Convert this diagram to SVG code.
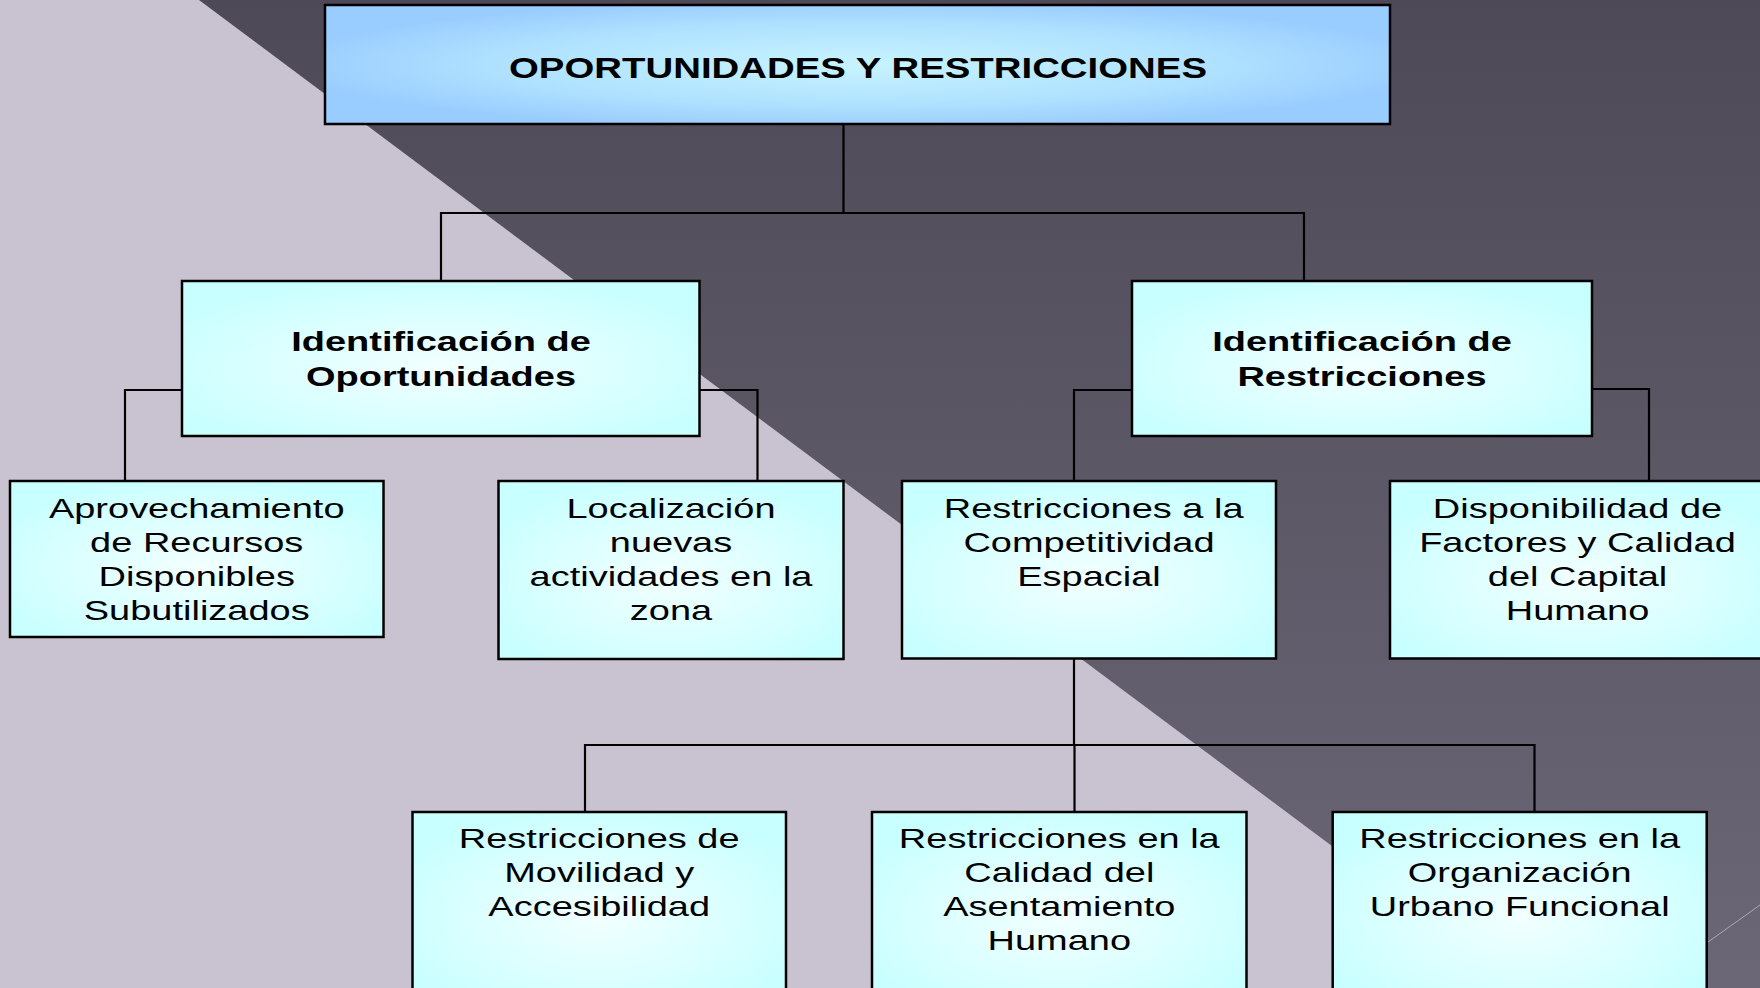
<svg xmlns="http://www.w3.org/2000/svg" width="1760" height="988" viewBox="0 0 1760 988">
<defs>
<linearGradient id="dark" x1="0" y1="0" x2="0" y2="1">
<stop offset="0" stop-color="#4e4956"/>
<stop offset="1" stop-color="#6c6776"/>
</linearGradient>
<radialGradient id="cyan" cx="0.5" cy="0.55" r="0.6">
<stop offset="0" stop-color="#f2ffff"/>
<stop offset="0.55" stop-color="#dcffff"/>
<stop offset="1" stop-color="#c8ffff"/>
</radialGradient>
<radialGradient id="blue" cx="0.5" cy="0.5" r="0.55">
<stop offset="0" stop-color="#c8f4ff"/>
<stop offset="0.6" stop-color="#b0e2ff"/>
<stop offset="1" stop-color="#99ccff"/>
</radialGradient>
<style>
.box{stroke:#000;stroke-width:2.5;fill:url(#cyan)}
.top{stroke:#000;stroke-width:2.5;fill:url(#blue)}
.t{font-family:"Liberation Sans",Arial,Helvetica,sans-serif;font-size:28.5px;text-anchor:middle;fill:#000}
.b{font-weight:bold}
.con{fill:none;stroke:#000;stroke-width:2.2}
</style>
</defs>
<rect x="0" y="0" width="1760" height="988" fill="#c9c3d1"/>
<polygon points="199,0 1760,0 1760,988 1522,988" fill="url(#dark)"/>
<line x1="1708" y1="942" x2="1760" y2="905" stroke="#d8d4de" stroke-width="1" opacity="0.6"/>

<g id="connectors">
<path class="con" d="M843.5,124 V213 M441,281 V213 H1304 V281"/>
<path class="con" d="M182,390 H125 V481 M699.5,390 H757.5 V481"/>
<path class="con" d="M1132,390 H1074 V481 M1592,389 H1649 V481"/>
<path class="con" d="M1074,658 V745 M585,812 V745 H1534.5 V812 M1074.5,745 V812"/>
</g>

<g id="n-top">
<rect class="top" x="325" y="5" width="1065" height="119"/>
<g transform="translate(858 0) scale(1.333 1)"><text class="t b" x="0" y="78.5" style="font-size:28.8px">OPORTUNIDADES Y RESTRICCIONES</text></g>
</g>

<g id="n-oport">
<rect class="box" x="182" y="281" width="517.5" height="155"/>
<g transform="translate(441 0) scale(1.333 1)">
<text class="t b" x="0" y="351">Identificación de</text>
<text class="t b" x="0" y="386">Oportunidades</text>
</g>
</g>

<g id="n-restr">
<rect class="box" x="1132" y="281" width="460" height="155"/>
<g transform="translate(1362 0) scale(1.333 1)">
<text class="t b" x="0" y="351">Identificación de</text>
<text class="t b" x="0" y="386">Restricciones</text>
</g>
</g>

<g id="n-aprov">
<rect class="box" x="10" y="481" width="373.5" height="156"/>
<g transform="translate(196.7 0) scale(1.333 1)">
<text class="t" x="0" y="518.5">Aprovechamiento</text>
<text class="t" x="0" y="552.5">de Recursos</text>
<text class="t" x="0" y="586.5">Disponibles</text>
<text class="t" x="0" y="620.5">Subutilizados</text>
</g>
</g>

<g id="n-local">
<rect class="box" x="498.5" y="481" width="345" height="178"/>
<g transform="translate(671 0) scale(1.333 1)">
<text class="t" x="0" y="518.5">Localización</text>
<text class="t" x="0" y="552.5">nuevas</text>
<text class="t" x="0" y="586.5">actividades en la</text>
<text class="t" x="0" y="620.5">zona</text>
</g>
</g>

<g id="n-compet">
<rect class="box" x="902" y="481" width="374" height="177.5"/>
<g transform="translate(1089 0) scale(1.333 1)">
<text class="t" x="3.5" y="518.5">Restricciones a la</text>
<text class="t" x="0" y="552.5">Competitividad</text>
<text class="t" x="0" y="586.5">Espacial</text>
</g>
</g>

<g id="n-dispon">
<rect class="box" x="1390" y="481" width="375" height="177.5"/>
<g transform="translate(1577.5 0) scale(1.333 1)">
<text class="t" x="0" y="518.5">Disponibilidad de</text>
<text class="t" x="0" y="552.5">Factores y Calidad</text>
<text class="t" x="0" y="586.5">del Capital</text>
<text class="t" x="0" y="620.5">Humano</text>
</g>
</g>

<g id="n-movil">
<rect class="box" x="412.5" y="812" width="373.5" height="190"/>
<g transform="translate(599.2 0) scale(1.333 1)">
<text class="t" x="0" y="848.5">Restricciones de</text>
<text class="t" x="0" y="882.5">Movilidad y</text>
<text class="t" x="0" y="916.5">Accesibilidad</text>
</g>
</g>

<g id="n-calidad">
<rect class="box" x="872" y="812" width="374.5" height="190"/>
<g transform="translate(1059.3 0) scale(1.333 1)">
<text class="t" x="0" y="848.5">Restricciones en la</text>
<text class="t" x="0" y="882.5">Calidad del</text>
<text class="t" x="0" y="916.5">Asentamiento</text>
<text class="t" x="0" y="950.5">Humano</text>
</g>
</g>

<g id="n-organ">
<rect class="box" x="1332.7" y="812" width="374" height="190"/>
<g transform="translate(1519.7 0) scale(1.333 1)">
<text class="t" x="0" y="848.5">Restricciones en la</text>
<text class="t" x="0" y="882.5">Organización</text>
<text class="t" x="0" y="916.5">Urbano Funcional</text>
</g>
</g>
</svg>
